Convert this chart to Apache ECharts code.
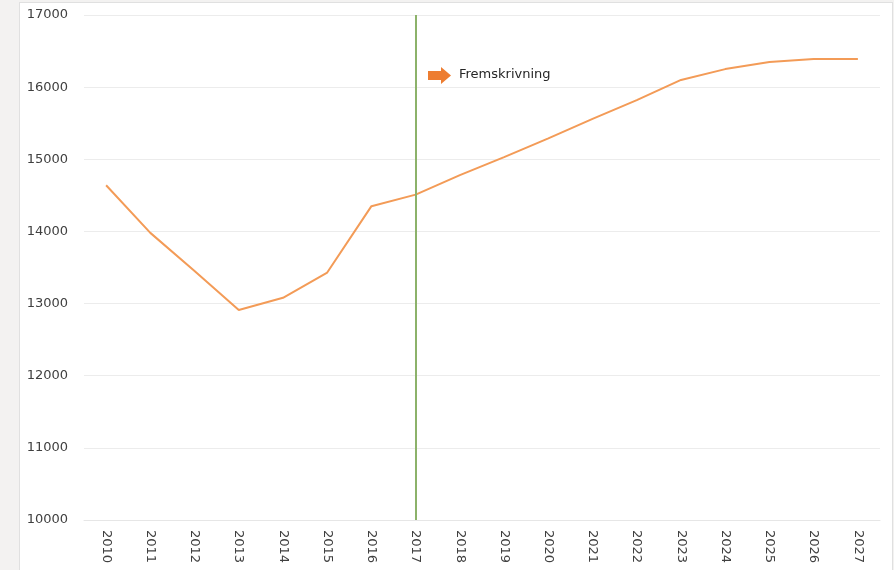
<!DOCTYPE html>
<html>
<head>
<meta charset="utf-8">
<script src="https://cdn.jsdelivr.net/npm/echarts@6/dist/echarts.min.js"></script>
<style>
  html, body { margin: 0; padding: 0; background: #f3f2f1; }
  #panel { position: absolute; left: 19px; top: 2px; width: 872px; height: 600px; background: #fff; border: 1px solid #e0e0e0; }
  #chart { position: absolute; left: 0; top: 0; width: 894px; height: 570px; }
</style>
</head>
<body>
<div id="panel"></div>
<div id="chart"></div>
<script>
const years = ['2010','2011','2012','2013','2014','2015','2016','2017','2018','2019','2020','2021','2022','2023','2024','2025','2026','2027'];
const values = [14640, 13980, 13450, 12910, 13080, 13430, 14350, 14510, 14780, 15030, 15290, 15560, 15820, 16100, 16250, 16350, 16390, 16390];
const forecastStart = '2017';
const annotationText = 'Fremskrivning';
const yMin = 10000, yMax = 17000, yStep = 1000;

const chart = echarts.init(document.getElementById('chart'), null, { renderer: 'canvas' });
const font = 'DejaVu Sans';
chart.setOption({
  animation: false,
  backgroundColor: 'transparent',
  grid: { left: 84, right: 14, top: 15, bottom: 50, containLabel: false },
  xAxis: {
    type: 'category',
    data: years,
    boundaryGap: true,
    axisLine: { show: true, lineStyle: { color: '#e6e6e6', width: 1 } },
    axisTick: { show: false },
    axisLabel: { rotate: -90, margin: 10, color: '#404040', fontFamily: font, fontSize: 13 }
  },
  yAxis: {
    type: 'value',
    min: yMin, max: yMax, interval: yStep,
    axisLine: { show: false },
    axisTick: { show: false },
    axisLabel: { color: '#404040', fontFamily: font, fontSize: 13, margin: 16, formatter: v => String(v) },
    splitLine: { lineStyle: { color: '#ececec', width: 1 } }
  },
  series: [{
    type: 'line',
    data: values,
    symbol: 'none',
    lineStyle: { color: '#F39B57', width: 2 },
    markLine: {
      silent: true,
      symbol: 'none',
      label: { show: false },
      lineStyle: { color: '#8CB26A', width: 2, type: 'solid' },
      data: [{ xAxis: forecastStart }]
    }
  }],
  graphic: [
    {
      type: 'polygon',
      shape: { points: [[428,71],[441,71],[441,67],[451,75.5],[441,84],[441,80],[428,80]] },
      style: { fill: '#ED7D31' }
    },
    {
      type: 'text',
      left: 459, top: 68,
      style: { text: annotationText, fill: '#262626', font: '13px "DejaVu Sans"' }
    }
  ]
});
</script>
</body>
</html>
